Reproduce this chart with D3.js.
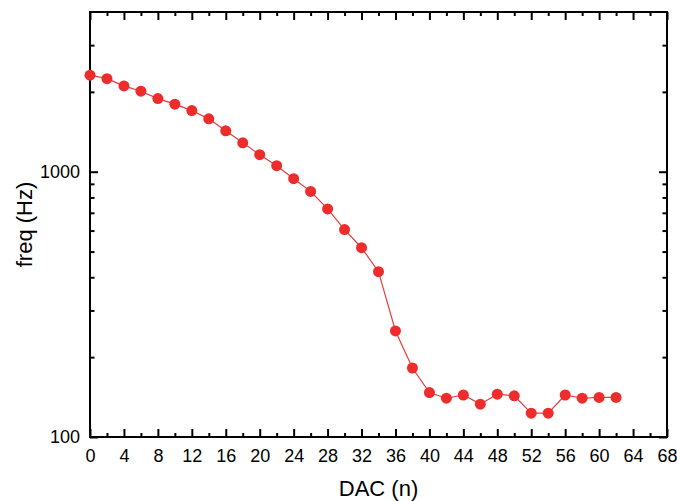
<!DOCTYPE html>
<html>
<head>
    <meta charset="utf-8">
    <script src="https://d3js.org/d3.v7.min.js"></script>
    <style>
        body { margin: 0; background: #fff; }
        text { font-family: "Liberation Sans", Arial, sans-serif; }
    </style>
</head>
<body>
    <svg id="chart"></svg>
    <script>
        // DAC setting vs measured frequency
        var dac = [0, 2, 4, 6, 8, 10, 12, 14, 16, 18, 20, 22, 24, 26, 28, 30,
            32, 34, 36, 38, 40, 42, 44, 46, 48, 50, 52, 54, 56, 58, 60, 62];
        var freq = [2311, 2243, 2106, 2011, 1886, 1797, 1700, 1582, 1426, 1285, 1159, 1054, 941, 843, 724, 605,
            517, 420, 251, 182, 147, 140, 144, 133, 145, 143, 123, 123, 144, 140, 141, 141];
        var xTicks = d3.range(0, 69, 4);
        var yTicks = [100, 1000];
        var yMinor = [200, 300, 400, 500, 600, 700, 800, 900, 2000, 3000];

        var width = 677, height = 501;
        var margin = { top: 12, right: 10, bottom: 64, left: 90 };

        var svg = d3.select("#chart")
            .attr("width", width)
            .attr("height", height);

        var x = d3.scaleLinear().domain([0, 68]).range([margin.left, width - margin.right]);
        var y = d3.scaleLog().domain([100, 4000]).range([height - margin.bottom, margin.top]);

        var x0 = x.range()[0], x1 = x.range()[1];
        var y0 = y.range()[0], y1 = y.range()[1];

        // ticks point inward on all four sides
        var xMinor = d3.range(2, 68, 4);

        svg.append("g")
            .attr("transform", "translate(0," + y0 + ")")
            .call(d3.axisBottom(x).tickValues(xMinor).tickSize(-4).tickFormat(""))
            .call(g => g.select(".domain").remove());
        svg.append("g")
            .attr("transform", "translate(0," + y0 + ")")
            .call(d3.axisBottom(x).tickValues(xTicks).tickSize(-8).tickFormat(d3.format("d")))
            .call(g => g.select(".domain").remove())
            .call(g => g.selectAll("text").style("font-size", "18px").attr("fill", "#000").attr("dy", "0.71em").attr("y", 12));
        svg.append("g")
            .attr("transform", "translate(0," + y1 + ")")
            .call(d3.axisTop(x).tickValues(xMinor).tickSize(-4).tickFormat(""))
            .call(g => g.select(".domain").remove());
        svg.append("g")
            .attr("transform", "translate(0," + y1 + ")")
            .call(d3.axisTop(x).tickValues(xTicks).tickSize(-8).tickFormat(""))
            .call(g => g.select(".domain").remove());

        svg.append("g")
            .attr("transform", "translate(" + x0 + ",0)")
            .call(d3.axisLeft(y).tickValues(yMinor).tickSize(-4.5).tickFormat(""))
            .call(g => g.select(".domain").remove());
        svg.append("g")
            .attr("transform", "translate(" + x0 + ",0)")
            .call(d3.axisLeft(y).tickValues(yTicks).tickSize(-8).tickFormat(d3.format("d")))
            .call(g => g.select(".domain").remove())
            .call(g => g.selectAll("text").style("font-size", "18px").attr("fill", "#000").attr("x", -10));
        svg.append("g")
            .attr("transform", "translate(" + x1 + ",0)")
            .call(d3.axisRight(y).tickValues(yMinor).tickSize(-4.5).tickFormat(""))
            .call(g => g.select(".domain").remove());
        svg.append("g")
            .attr("transform", "translate(" + x1 + ",0)")
            .call(d3.axisRight(y).tickValues(yTicks).tickSize(-8).tickFormat(""))
            .call(g => g.select(".domain").remove());

        svg.selectAll(".tick line").attr("stroke", "#000").attr("stroke-width", 2);

        // frame
        svg.append("rect")
            .attr("x", x0).attr("y", y1)
            .attr("width", x1 - x0).attr("height", y0 - y1)
            .attr("fill", "none").attr("stroke", "#000").attr("stroke-width", 2);

        // axis titles
        svg.append("text")
            .attr("x", (x0 + x1) / 2).attr("y", 496)
            .attr("text-anchor", "middle")
            .style("font-size", "22px")
            .text("DAC (n)");
        svg.append("text")
            .attr("transform", "translate(32," + (y0 + y1) / 2 + ") rotate(-90)")
            .attr("text-anchor", "middle")
            .style("font-size", "22px")
            .text("freq (Hz)");

        // series
        var pts = dac.map((d, i) => [d, freq[i]]);
        svg.append("path")
            .datum(pts)
            .attr("fill", "none")
            .attr("stroke", "#ee3a3a")
            .attr("stroke-width", 1.2)
            .attr("d", d3.line().x(d => x(d[0])).y(d => y(d[1])));
        svg.append("g")
            .selectAll("circle")
            .data(pts)
            .join("circle")
            .attr("cx", d => x(d[0]))
            .attr("cy", d => y(d[1]))
            .attr("r", 5.5)
            .attr("fill", "#ee2c2c");
    </script>
</body>
</html>
